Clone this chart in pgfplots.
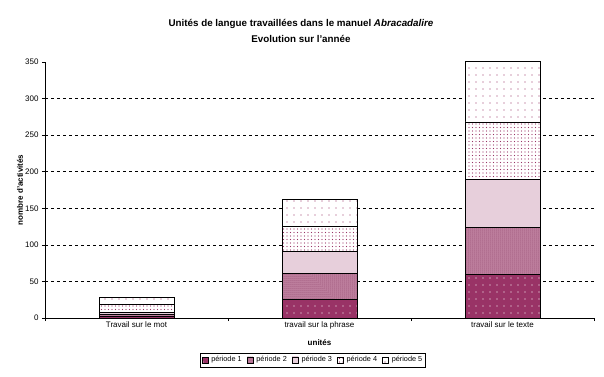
\documentclass[border=0pt]{standalone}
\usepackage{fontspec}
\setmainfont{Liberation Sans}
\usepackage{pgfplots}
\pgfplotsset{compat=1.18}
\usetikzlibrary{patterns,patterns.meta}
\definecolor{mag}{HTML}{993366}
\begin{document}
\begin{tikzpicture}[x=1pt,y=1pt]
\useasboundingbox (-45,-58) rectangle (559,318);
\begin{axis}[
  at={(0,0)}, anchor=south west,
  scale only axis, width=549pt, height=256pt,
  clip=false,
  ybar stacked, bar width=75pt,
  xmin=-0.5, xmax=2.5, ymin=0, ymax=350,
  axis x line*=bottom, axis y line*=left,
  axis line style={-, line width=0.8pt},
  xtick={-0.5,0.5,1.5,2.5}, xticklabels={},
  extra x ticks={0,1,2},
  extra x tick labels={Travail sur le mot, travail sur la phrase, travail sur le texte},
  extra x tick style={major tick length=0pt},
  ytick={0,50,...,350},
  extra y ticks={50,100,...,300}, extra y tick labels={},
  extra y tick style={grid=major, major tick length=0pt},
  major grid style={black, line width=0.6pt, dash pattern=on 3pt off 3pt},
  tick align=outside, major tick length=3pt,
  tick style={black, line width=0.6pt},
  ticklabel style={font=\fontsize{8}{9.5}\selectfont},
  /pgf/number format/assume math mode=true,
  xlabel={unités}, ylabel={nombre d'activités},
  xlabel style={at={(axis description cs:0.5,-0.098)}, anchor=center, font=\bfseries\fontsize{8}{9.5}\selectfont},
  ylabel style={at={(axis description cs:-0.0455,0.5)}, anchor=center, font=\bfseries\fontsize{8}{9.5}\selectfont},
  legend columns=5,
  legend style={at={(0.488,-0.164)}, anchor=center, draw=black, line width=0.6pt,
    font=\fontsize{7.3}{9}\selectfont, inner sep=1.5pt,
    /tikz/every odd column/.append style={column sep=1pt},
    /tikz/every even column/.append style={column sep=3pt}},
  legend image code/.code={\draw[#1] (0pt,-3pt) rectangle (6pt,3pt);},
]
\addplot[fill=mag, draw=black, line width=0.7pt, postaction={pattern color=white, pattern={Dots[radius=0.7pt,distance=7pt]}}]
  coordinates {(0,2) (1,25) (2,60)};
\addplot[fill=mag!60!white, draw=black, line width=0.7pt, postaction={pattern color=mag!80!black, pattern={Dots[radius=0.5pt,distance=2pt]}}]
  coordinates {(0,3) (1,36) (2,64)};
\addplot[fill=white, draw=black, line width=0.7pt, postaction={pattern color=mag, pattern={Dots[radius=0.55pt,distance=2pt]}}]
  coordinates {(0,3) (1,30) (2,65)};
\addplot[fill=white, draw=black, line width=0.7pt, postaction={pattern color=mag, pattern={Dots[radius=0.65pt,distance=3.5pt]}}]
  coordinates {(0,10) (1,34) (2,79)};
\addplot[fill=white, draw=black, line width=0.7pt, postaction={pattern color=mag, pattern={Dots[radius=0.7pt,distance=7pt]}}]
  coordinates {(0,10) (1,37) (2,83)};
\legend{période 1, période 2, période 3, période 4, période 5}
\end{axis}
\node[font=\bfseries\fontsize{9.8}{15.5}\selectfont, align=center] at (256,287)
  {Unités de langue travaillées dans le manuel \textit{Abracadalire}\\Evolution sur l'année};
\end{tikzpicture}
\end{document}
